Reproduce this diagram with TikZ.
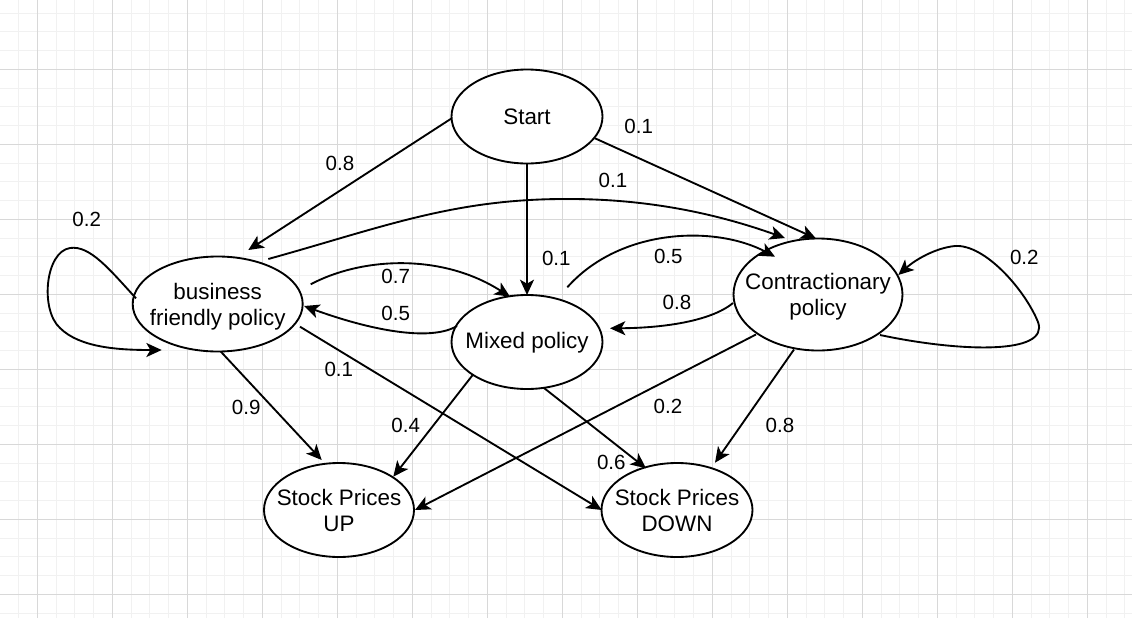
\documentclass[tikz,border=0pt]{standalone}
\usepackage{fontspec}
\setmainfont{Liberation Sans}
\usetikzlibrary{shapes.geometric,arrows.meta}
\definecolor{gmaj}{RGB}{216,216,216}
\definecolor{gmin}{RGB}{241,241,241}
\begin{document}
\begin{tikzpicture}[x=0.75pt,y=-0.75pt,
  st/.style={ellipse,draw,line width=1.4pt,fill=white,inner sep=0pt},
  txt/.style={font=\fontsize{16.8pt}{19.5pt}\selectfont,align=center,inner sep=0pt,text depth=0pt},
  lab/.style={font=\fontsize{15.4pt}{18pt}\selectfont,inner sep=0pt,text depth=0pt},
  conn/.style={line width=1.4pt,-{Stealth[length=11.5pt,width=10.5pt,inset=3pt]}},
  gridmin/.style={draw=gmin,line width=0.75pt},
  gridmaj/.style={draw=gmaj,line width=0.75pt}]
\useasboundingbox (0,0) rectangle (1132,618);
\fill[white] (0,0) rectangle (1132,618);
\begin{scope}
\clip (0,0) rectangle (1132,618);
\foreach \i in {0,...,61} \draw[gridmin] ({-0.2+18.75*\i},0) -- ({-0.2+18.75*\i},618);
\foreach \j in {0,...,33} \draw[gridmin] (0,{-5.7+18.75*\j}) -- (1132,{-5.7+18.75*\j});
\foreach \i in {0,...,14} \draw[gridmaj] ({37.3+75*\i},0) -- ({37.3+75*\i},618);
\foreach \j in {0,...,8} \draw[gridmaj] (0,{-5.7+75*\j}) -- (1132,{-5.7+75*\j});
\end{scope}

% nodes
\node[st,minimum width=113.25pt,minimum height=70.5pt] (S) at (527,116.5) {};
\node[st,minimum width=127.5pt,minimum height=71.25pt] (B) at (217.7,304) {};
\node[st,minimum width=126.75pt,minimum height=84pt] (C) at (818,294.5) {};
\node[st,minimum width=113.25pt,minimum height=70.5pt] (M) at (527,342) {};
\node[st,minimum width=112.5pt,minimum height=70.5pt] (U) at (339,510) {};
\node[st,minimum width=113.25pt,minimum height=70.5pt] (D) at (677,510) {};
\node[txt] (St) at (S) {Start};
\node[txt] (Bt) at (B) {business\\friendly policy};
\node[txt] (Ct) at (C) {Contractionary\\policy};
\node[txt] (Mt) at ([yshift=1.5pt]M.center) {Mixed policy};
\node[txt] (Ut) at (U) {Stock Prices\\UP};
\node[txt] (Dt) at (D) {Stock Prices\\DOWN};

% connectors
\draw[conn] ([shift={(-75.3,1.8)}]S.center) -- ([shift={(30.6,-54)}]B.center);
\draw[conn] ([shift={(0,47)}]S.center) -- ([shift={(0,-47)}]M.center);
\draw[conn] ([shift={(68,21.8)}]S.center) -- ([shift={(-2,-56)}]C.center);
\draw[conn] ([shift={(50.6,-45)}]B.center) .. controls (380,228) and (450,200) .. (560,199)
   .. controls (650,198) and (720,215) .. ([shift={(-33,-56.5)}]C.center);
\draw[conn] ([shift={(93,-19.7)}]B.center) .. controls (360,258) and (440,252) .. ([shift={(-17,-45.3)}]M.center);
\draw[conn] ([shift={(-70,-16)}]M.center) .. controls (430,342) and (370,330) .. ([shift={(86.3,2)}]B.center);
\draw[conn] ([shift={(40.3,-54.7)}]M.center) .. controls (620,228) and (715,225) .. ([shift={(-43,-37.8)}]C.center);
\draw[conn] ([shift={(-85,8.5)}]C.center) .. controls (710,322) and (660,328) .. ([shift={(83,-13.7)}]M.center);
\draw[conn] ([shift={(62,40.5)}]C.center) .. controls (960,352) and (1050,355) .. (1038,322)
   .. controls (1025,290) and (985,244) .. (955,246)
   .. controls (935,248) and (915,260) .. ([shift={(80.3,-19.5)}]C.center);
\draw[conn] ([shift={(-81.7,-5.7)}]B.center) .. controls (110,270) and (90,245) .. (70,248)
   .. controls (45,252) and (40,310) .. (60,328)
   .. controls (80,348) and (120,350) .. ([shift={(-56,46)}]B.center);
\draw[conn] ([shift={(3,47.5)}]B.center) -- ([shift={(-17.3,-50)}]U.center);
\draw[conn] ([shift={(82.3,22.7)}]B.center) -- ([shift={(-75.3,0)}]D.center);
\draw[conn] ([shift={(-54.3,33)}]M.center) -- ([shift={(54.3,-33.3)}]U.center);
\draw[conn] ([shift={(17,46)}]M.center) -- ([shift={(-31,-41.7)}]D.center);
\draw[conn] ([shift={(-62,40)}]C.center) -- ([shift={(76,0)}]U.center);
\draw[conn] ([shift={(-24,55)}]C.center) -- ([shift={(38,-47.3)}]D.center);

% labels
\node[lab] (l1) at (340,163.3) {0.8};
\node[lab] (l2) at (556.3,258.8) {0.1};
\node[lab] (l3) at (638.7,126.3) {0.1};
\node[lab] (l4) at (613,180.3) {0.1};
\node[lab] (l5) at (668.3,256.7) {0.5};
\node[lab] (l6) at (677,302.7) {0.8};
\node[lab] (l7) at (395.7,276.3) {0.7};
\node[lab] (l8) at (395.7,313.8) {0.5};
\node[lab] (l9) at (338.8,369.5) {0.1};
\node[lab] (l10) at (86.7,219.2) {0.2};
\node[lab] (l11) at (1024.3,257.2) {0.2};
\node[lab] (l12) at (246.2,407.2) {0.9};
\node[lab] (l13) at (405.7,425.7) {0.4};
\node[lab] (l14) at (668,406.7) {0.2};
\node[lab] (l15) at (780,425.7) {0.8};
\node[lab] (l16) at (611.3,462.3) {0.6};
\end{tikzpicture}
\end{document}
